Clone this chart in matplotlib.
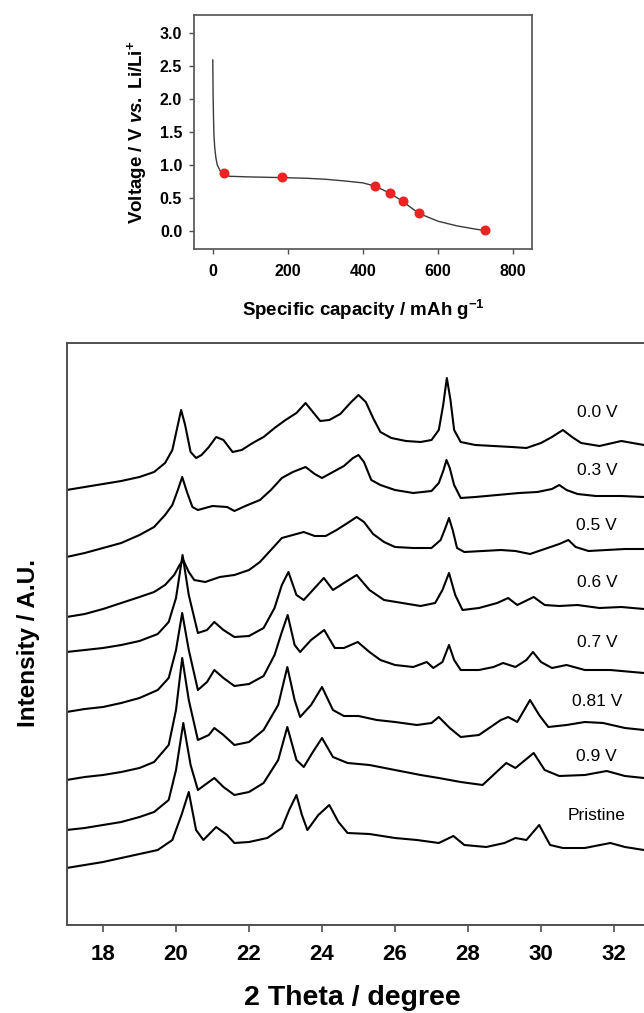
import numpy as np
import matplotlib
matplotlib.use("Agg")
import matplotlib.pyplot as plt

plt.rcParams.update({
    "font.family": ["Liberation Sans", "DejaVu Sans"],
    "mathtext.fontset": "custom",
    "mathtext.rm": "Liberation Sans:bold",
    "mathtext.bf": "Liberation Sans:bold",
    "mathtext.it": "Liberation Sans:italic:bold",
})

# discharge profile (top panel)
capacity = [0, 1, 2, 3, 5, 8, 12, 20, 31, 45, 100, 183, 250, 300, 350, 400,
            433, 473, 506, 548, 600, 650, 700, 724]
voltage = [2.59, 2.0, 1.7, 1.47, 1.28, 1.12, 1.0, 0.91, 0.86, 0.83, 0.82, 0.81,
           0.80, 0.785, 0.76, 0.73, 0.68, 0.57, 0.45, 0.27, 0.15, 0.08, 0.03, 0.01]
sample_cap = [31, 183, 432, 473, 506, 548, 724]
sample_v = [0.88, 0.82, 0.68, 0.57, 0.45, 0.27, 0.01]

# ex-situ XRD patterns, (2theta, stacked intensity in A.U.)
xrd_00 = [(17.0, 435), (17.5, 438), (18.0, 441), (18.5, 444), (19.0, 448), (19.4, 453), (19.7, 462),
          (19.9, 475), (20.05, 500), (20.14, 515), (20.25, 500), (20.4, 473), (20.55, 467), (20.7, 470),
          (20.9, 478), (21.1, 488), (21.3, 485), (21.55, 473), (21.8, 475), (22.1, 482), (22.4, 488),
          (22.7, 497), (23.0, 505), (23.3, 512), (23.55, 522), (23.75, 513), (23.95, 504), (24.2, 505),
          (24.5, 511), (24.8, 523), (25.0, 530), (25.2, 523), (25.4, 507), (25.6, 493), (25.9, 487),
          (26.3, 484), (26.7, 483), (27.0, 485), (27.2, 495), (27.32, 520), (27.42, 547), (27.52, 525),
          (27.62, 495), (27.8, 483), (28.2, 480), (28.7, 479), (29.2, 478), (29.6, 477), (30.0, 482),
          (30.3, 488), (30.6, 495), (30.85, 488), (31.1, 482), (31.6, 479), (32.2, 484), (32.82, 480)]
xrd_03 = [(17.0, 368), (17.5, 372), (18.0, 377), (18.5, 382), (19.0, 390), (19.4, 398), (19.7, 410),
          (19.9, 420), (20.05, 435), (20.17, 448), (20.3, 433), (20.45, 418), (20.6, 415), (21.0, 419),
          (21.4, 418), (21.6, 414), (21.9, 419), (22.3, 425), (22.6, 435), (22.9, 447), (23.2, 453),
          (23.55, 458), (23.8, 451), (24.0, 447), (24.3, 453), (24.6, 459), (24.85, 467), (25.0, 470),
          (25.15, 463), (25.35, 445), (25.6, 440), (26.0, 435), (26.5, 432), (27.0, 434), (27.2, 442),
          (27.33, 455), (27.41, 465), (27.5, 457), (27.62, 440), (27.8, 427), (28.2, 428), (28.8, 430),
          (29.4, 432), (29.9, 433), (30.3, 436), (30.5, 440), (30.7, 435), (31.0, 431), (31.5, 429),
          (32.2, 429), (32.82, 428)]
xrd_05 = [(17.0, 308), (17.5, 311), (18.0, 316), (18.5, 322), (19.0, 328), (19.4, 333), (19.7, 340),
          (19.95, 350), (20.1, 360), (20.2, 365), (20.35, 353), (20.5, 345), (20.8, 343), (21.2, 348),
          (21.6, 350), (22.0, 355), (22.3, 363), (22.6, 375), (22.9, 387), (23.2, 390), (23.5, 393),
          (23.8, 389), (24.1, 389), (24.4, 395), (24.7, 402), (24.95, 408), (25.15, 403), (25.4, 391),
          (25.7, 383), (26.0, 378), (26.5, 377), (27.0, 377), (27.25, 385), (27.38, 397), (27.48, 407),
          (27.58, 395), (27.7, 377), (27.9, 373), (28.4, 374), (28.9, 375), (29.3, 374), (29.7, 371),
          (30.1, 376), (30.5, 381), (30.75, 385), (30.95, 378), (31.3, 374), (31.8, 375), (32.3, 376),
          (32.82, 376)]
xrd_06 = [(17.0, 273), (17.5, 275), (18.0, 277), (18.5, 280), (19.0, 284), (19.5, 291), (19.8, 303),
          (20.0, 327), (20.18, 370), (20.35, 330), (20.6, 292), (20.85, 295), (21.05, 303), (21.3, 295),
          (21.6, 288), (22.0, 289), (22.4, 297), (22.7, 317), (22.9, 340), (23.08, 353), (23.3, 330),
          (23.5, 325), (23.8, 337), (24.05, 347), (24.3, 335), (24.6, 342), (24.95, 350), (25.3, 335),
          (25.7, 325), (26.2, 322), (26.7, 319), (27.1, 322), (27.3, 335), (27.48, 352), (27.65, 330),
          (27.85, 315), (28.3, 317), (28.8, 322), (29.1, 327), (29.35, 320), (29.8, 328), (30.1, 320),
          (30.5, 319), (31.0, 320), (31.6, 317), (32.2, 318), (32.82, 316)]
xrd_07 = [(17.0, 213), (17.5, 216), (18.0, 218), (18.5, 222), (19.0, 227), (19.5, 235), (19.8, 247),
          (20.0, 275), (20.17, 312), (20.35, 275), (20.6, 235), (20.85, 243), (21.05, 255), (21.3, 247),
          (21.6, 239), (22.0, 241), (22.4, 249), (22.7, 270), (22.9, 293), (23.06, 310), (23.25, 280),
          (23.4, 273), (23.7, 285), (24.06, 295), (24.35, 277), (24.6, 277), (24.98, 283), (25.3, 273),
          (25.6, 265), (26.0, 260), (26.5, 258), (26.87, 263), (27.05, 257), (27.3, 263), (27.48, 280),
          (27.62, 265), (27.8, 255), (28.3, 255), (28.7, 258), (28.96, 262), (29.3, 258), (29.6, 265),
          (29.78, 273), (30.0, 263), (30.3, 257), (30.7, 260), (31.2, 255), (31.9, 255), (32.82, 252)]
xrd_081 = [(17.0, 145), (17.5, 148), (18.0, 150), (18.5, 153), (19.0, 157), (19.4, 163), (19.8, 180),
           (20.0, 215), (20.17, 267), (20.35, 225), (20.6, 185), (20.9, 190), (21.05, 197), (21.3, 190),
           (21.6, 180), (22.0, 183), (22.4, 195), (22.8, 220), (23.05, 258), (23.25, 225), (23.4, 208),
           (23.7, 220), (24.0, 238), (24.3, 215), (24.6, 209), (25.0, 209), (25.5, 205), (26.0, 203),
           (26.6, 200), (27.0, 202), (27.2, 208), (27.5, 197), (27.8, 188), (28.3, 190), (28.9, 205),
           (29.1, 208), (29.35, 203), (29.7, 225), (29.95, 210), (30.2, 198), (30.7, 200), (31.2, 203),
           (31.7, 202), (32.3, 197), (32.82, 195)]
xrd_09 = [(17.0, 95), (17.5, 97), (18.0, 100), (18.5, 103), (19.0, 108), (19.4, 113), (19.8, 125),
          (20.0, 155), (20.2, 202), (20.4, 160), (20.6, 135), (20.9, 143), (21.05, 147), (21.3, 138),
          (21.6, 130), (22.0, 133), (22.4, 142), (22.8, 165), (23.05, 198), (23.3, 165), (23.5, 158),
          (23.75, 173), (24.0, 187), (24.3, 168), (24.7, 162), (25.3, 160), (26.0, 155), (26.7, 150),
          (27.2, 147), (27.8, 143), (28.4, 140), (28.9, 157), (29.05, 162), (29.3, 157), (29.8, 172),
          (30.1, 155), (30.5, 149), (31.2, 150), (31.8, 154), (32.3, 149), (32.82, 147)]
xrd_pristine = [(17.0, 57), (17.5, 60), (18.0, 63), (18.5, 67), (19.0, 71), (19.5, 75), (19.9, 85),
                (20.15, 110), (20.35, 133), (20.55, 95), (20.75, 85), (21.1, 98), (21.4, 90), (21.6, 82),
                (22.0, 83), (22.5, 87), (22.9, 97), (23.1, 115), (23.3, 130), (23.45, 110), (23.6, 95),
                (23.9, 110), (24.2, 120), (24.45, 103), (24.7, 92), (25.3, 91), (26.0, 87), (26.6, 85),
                (27.2, 82), (27.6, 89), (27.9, 80), (28.5, 78), (29.0, 82), (29.3, 87), (29.6, 85),
                (29.95, 100), (30.25, 80), (30.6, 77), (31.2, 77), (31.9, 82), (32.3, 78), (32.82, 75)]

patterns = [xrd_00, xrd_03, xrd_05, xrd_06, xrd_07, xrd_081, xrd_09, xrd_pristine]
pattern_labels = ["0.0 V", "0.3 V", "0.5 V", "0.6 V", "0.7 V", "0.81 V", "0.9 V", "Pristine"]
label_level = [513, 455, 400, 343, 283, 224, 169, 110]

W, H = 644, 1013
fig = plt.figure(figsize=(W / 100, H / 100), dpi=100)
spine_col = "#505050"

# ---- top: voltage profile
ax1 = fig.add_axes([194 / W, 1 - 249 / H, 338 / W, 234 / H])
ax1.plot(capacity, voltage, color="#3a3a3a", lw=1.0)
ax1.plot(sample_cap, sample_v, "o", color="#ec2323", ms=6.2, mec="#ec2323")
ax1.set_xlim(-50, 850)
ax1.set_ylim(-0.27, 3.27)
ax1.set_xticks([0, 200, 400, 600, 800])
ax1.set_yticks([0.0, 0.5, 1.0, 1.5, 2.0, 2.5, 3.0])
ax1.set_yticklabels([f"{v:.1f}" for v in ax1.get_yticks()])
ax1.tick_params(direction="out", length=3.5, width=1, color=spine_col,
                labelsize=11.5, top=False, right=False)
ax1.tick_params(axis="x", pad=7)
ax1.tick_params(axis="y", pad=5)
for lab in ax1.get_xticklabels() + ax1.get_yticklabels():
    lab.set_fontweight("bold")
for s in ax1.spines.values():
    s.set_color(spine_col)
    s.set_linewidth(1.2)
ax1.set_xlabel(r"Specific capacity / mAh g$^{\mathbf{-1}}$", fontsize=13.5,
               fontweight="bold", va="center")
ax1.xaxis.set_label_coords(0.5, (249 - 310) / 234)
ax1.set_ylabel(r"Voltage / V $\it{vs.}$ Li/Li$^{\mathbf{+}}$", fontsize=13.5,
               fontweight="bold", va="center")
ax1.yaxis.set_label_coords((137 - 194) / 338, 0.5)

# ---- bottom: stacked XRD patterns
ax2 = fig.add_axes([66.5 / W, 1 - 925 / H, 657 / W, 582 / H])
for pat, lab, lev in zip(patterns, pattern_labels, label_level):
    tt, ii = np.array(pat).T
    ax2.plot(tt, ii, color="black", lw=1.5)
    ax2.text(31.53, lev, lab, ha="center", va="center", fontsize=12.5)
ax2.set_xlim(17, 35)
ax2.set_ylim(0, 582)
ax2.set_xticks(np.arange(18, 33, 2))
ax2.set_yticks([])
ax2.tick_params(axis="x", direction="out", length=5, width=1.2, color=spine_col,
                labelsize=16, pad=9)
for lab in ax2.get_xticklabels():
    lab.set_fontweight("bold")
for s in ax2.spines.values():
    s.set_color(spine_col)
    s.set_linewidth(1.4)
ax2.set_xlabel("2 Theta / degree", fontsize=20.5, fontweight="bold", va="center")
ax2.xaxis.set_label_coords((352 - 66.5) / 657, (925 - 998) / 582)
ax2.set_ylabel("Intensity / A.U.", fontsize=17.5, fontweight="bold", va="center")
ax2.yaxis.set_label_coords((28 - 66.5) / 657, (925 - 643) / 582)

fig.savefig("out.png", dpi=100)
